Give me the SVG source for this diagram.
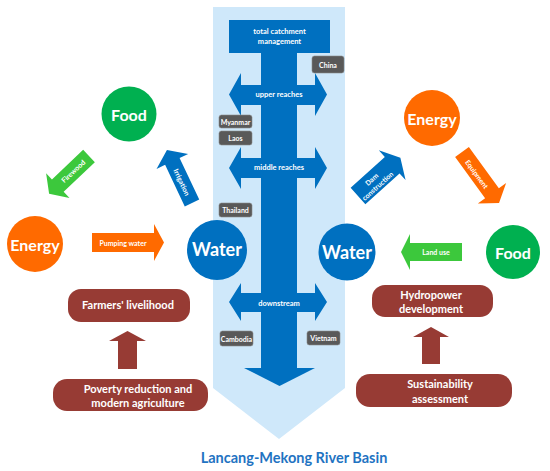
<svg xmlns="http://www.w3.org/2000/svg" width="550" height="471" viewBox="0 0 550 471">
<style>
text{font-family:Lato,"Open Sans","Liberation Sans",sans-serif;font-weight:bold;fill:#fff;text-anchor:middle;dominant-baseline:central}
.blue{fill:#0070C0}
.grn{fill:#00B050}
.org{fill:#FF6A00}
.lg{fill:#3CC83C}
.brn{fill:#973B34}
.gray{fill:#595959;stroke:#8a8a8a;stroke-width:0.6}
.s7{font-size:7px}
.s75{font-size:7.5px}
.s11{font-size:11px}
.c16{font-size:16px}
.c17{font-size:18px}
</style>
<rect width="550" height="471" fill="#fff"/>
<g id="basin">
<polygon points="213,7 345,7 345,388 279,439 213,388" fill="#CFE8FA"/>
</g>
<g id="river">
<rect class="blue" x="229" y="20" width="101" height="33"/>
<rect class="blue" x="261" y="52" width="36" height="317"/>
<polygon class="blue" points="244,368 315,368 279.5,386"/>
<polygon class="blue" points="229,94.5 241,73 241,85 315,85 315,73 327,94.5 315,116 315,105 241,105 241,116"/>
<polygon class="blue" points="229,168 241,147 241,158 315,158 315,147 327,168 315,189 315,178 241,178 241,189"/>
<polygon class="blue" points="229,302 241,283 241,293 315,293 315,283 327,302 315,321 315,312 241,312 241,321"/>
<text class="s75" x="279.5" y="31.5">total catchment</text>
<text class="s75" x="279.5" y="41.5">management</text>
<text class="s75" x="279" y="94">upper reaches</text>
<text class="s75" x="279" y="167">middle reaches</text>
<text class="s75" x="279" y="303">downstream</text>
</g>
<g id="countries">
<rect class="gray" x="312" y="56" width="32" height="17" rx="2.5"/>
<text class="s7" x="328" y="64.5">China</text>
<rect class="gray" x="219" y="115" width="33" height="13" rx="2.5"/>
<text class="s7" x="235.5" y="121.5">Myanmar</text>
<rect class="gray" x="219" y="131" width="33" height="14" rx="2.5"/>
<text class="s7" x="235.5" y="138">Laos</text>
<rect class="gray" x="219" y="203" width="33" height="14" rx="2.5"/>
<text class="s7" x="235.5" y="210">Thailand</text>
<rect class="gray" x="220" y="331" width="33" height="15" rx="2.5"/>
<text class="s7" x="236.5" y="338.5">Cambodia</text>
<rect class="gray" x="307" y="331" width="33" height="14" rx="2.5"/>
<text class="s7" x="323.5" y="338">Vietnam</text>
</g>
<g id="left-food"><circle class="grn" cx="129" cy="114" r="27.5"/><text class="c16" x="129" y="114">Food</text></g>
<g id="left-energy"><circle class="org" cx="35" cy="244" r="28"/><text class="c16" x="35" y="244">Energy</text></g>
<g id="left-water"><circle class="blue" cx="217" cy="250" r="30"/><text class="c17" x="217" y="249">Water</text></g>
<g id="right-energy"><circle class="org" cx="432" cy="118" r="28"/><text class="c16" x="432" y="118">Energy</text></g>
<g id="right-food"><circle class="grn" cx="513" cy="252" r="27"/><text class="c16" x="513" y="252">Food</text></g>
<g id="right-water"><circle class="blue" cx="347" cy="252" r="28.5"/><text class="c17" x="347" y="252">Water</text></g>
<g id="connectors">
<polygon class="lg" transform="translate(89,156) rotate(136.5)" points="0,-8.5 43,-8.5 43,-17 55,0 43,17 43,8.5 0,8.5"/>
<text class="s7" transform="translate(73,171) rotate(-43.5)">Firewood</text>
<polygon class="blue" transform="translate(192,203) rotate(-115.3)" points="0,-8 46,-8 46,-17.5 58.6,0 46,17.5 46,8 0,8"/>
<text class="s7" transform="translate(182,182) rotate(64.7)">Irrigation</text>
<polygon class="org" points="92,233 154,233 154,224 164,242.5 154,261 154,252 92,252"/>
<text class="s7" x="123" y="242.5">Pumping water</text>
<polygon class="blue" transform="translate(358,196) rotate(-42)" points="0,-11 46,-11 46,-20 57,0 46,20 46,11 0,11"/>
<text class="s7" transform="translate(374,182) rotate(-42)"><tspan x="0" y="-4">Dam</tspan><tspan x="0" y="5">construction</tspan></text>
<polygon class="org" transform="translate(462,152) rotate(54)" points="0,-8.5 51,-8.5 51,-17.5 63,0 51,17.5 51,8.5 0,8.5"/>
<text class="s7" transform="translate(477,174) rotate(54)">Equipment</text>
<polygon class="lg" points="462,243 410,243 410,234 401,252 410,270 410,261 462,261"/>
<text class="s7" x="436" y="252">Land use</text>
<polygon class="brn" points="118,369 118,341 109,341 127.5,331 146,341 137,341 137,369"/>
<polygon class="brn" points="422,364 422,337 413,337 431,327 449,337 440,337 440,364"/>
</g>
<g id="farmers"><rect class="brn" x="68" y="289" width="122" height="33" rx="13"/><text class="s11" x="128" y="304.5">Farmers' livelihood</text></g>
<g id="poverty"><rect class="brn" x="53" y="379" width="155" height="32" rx="14"/><text class="s11" x="138" y="388">Poverty reduction and</text><text class="s11" x="138" y="402">modern agriculture</text></g>
<g id="hydropower"><rect class="brn" x="372" y="285" width="121" height="32" rx="13"/><text class="s11" x="431" y="294.5">Hydropower</text><text class="s11" x="431" y="308">development</text></g>
<g id="sustainability"><rect class="brn" x="356" y="374" width="156" height="33" rx="14"/><text class="s11" x="440" y="383.5">Sustainability</text><text class="s11" x="440" y="398">assessment</text></g>
<text x="294" y="457" style="font-size:14.5px;fill:#1F73C2">Lancang-Mekong River Basin</text>
</svg>
